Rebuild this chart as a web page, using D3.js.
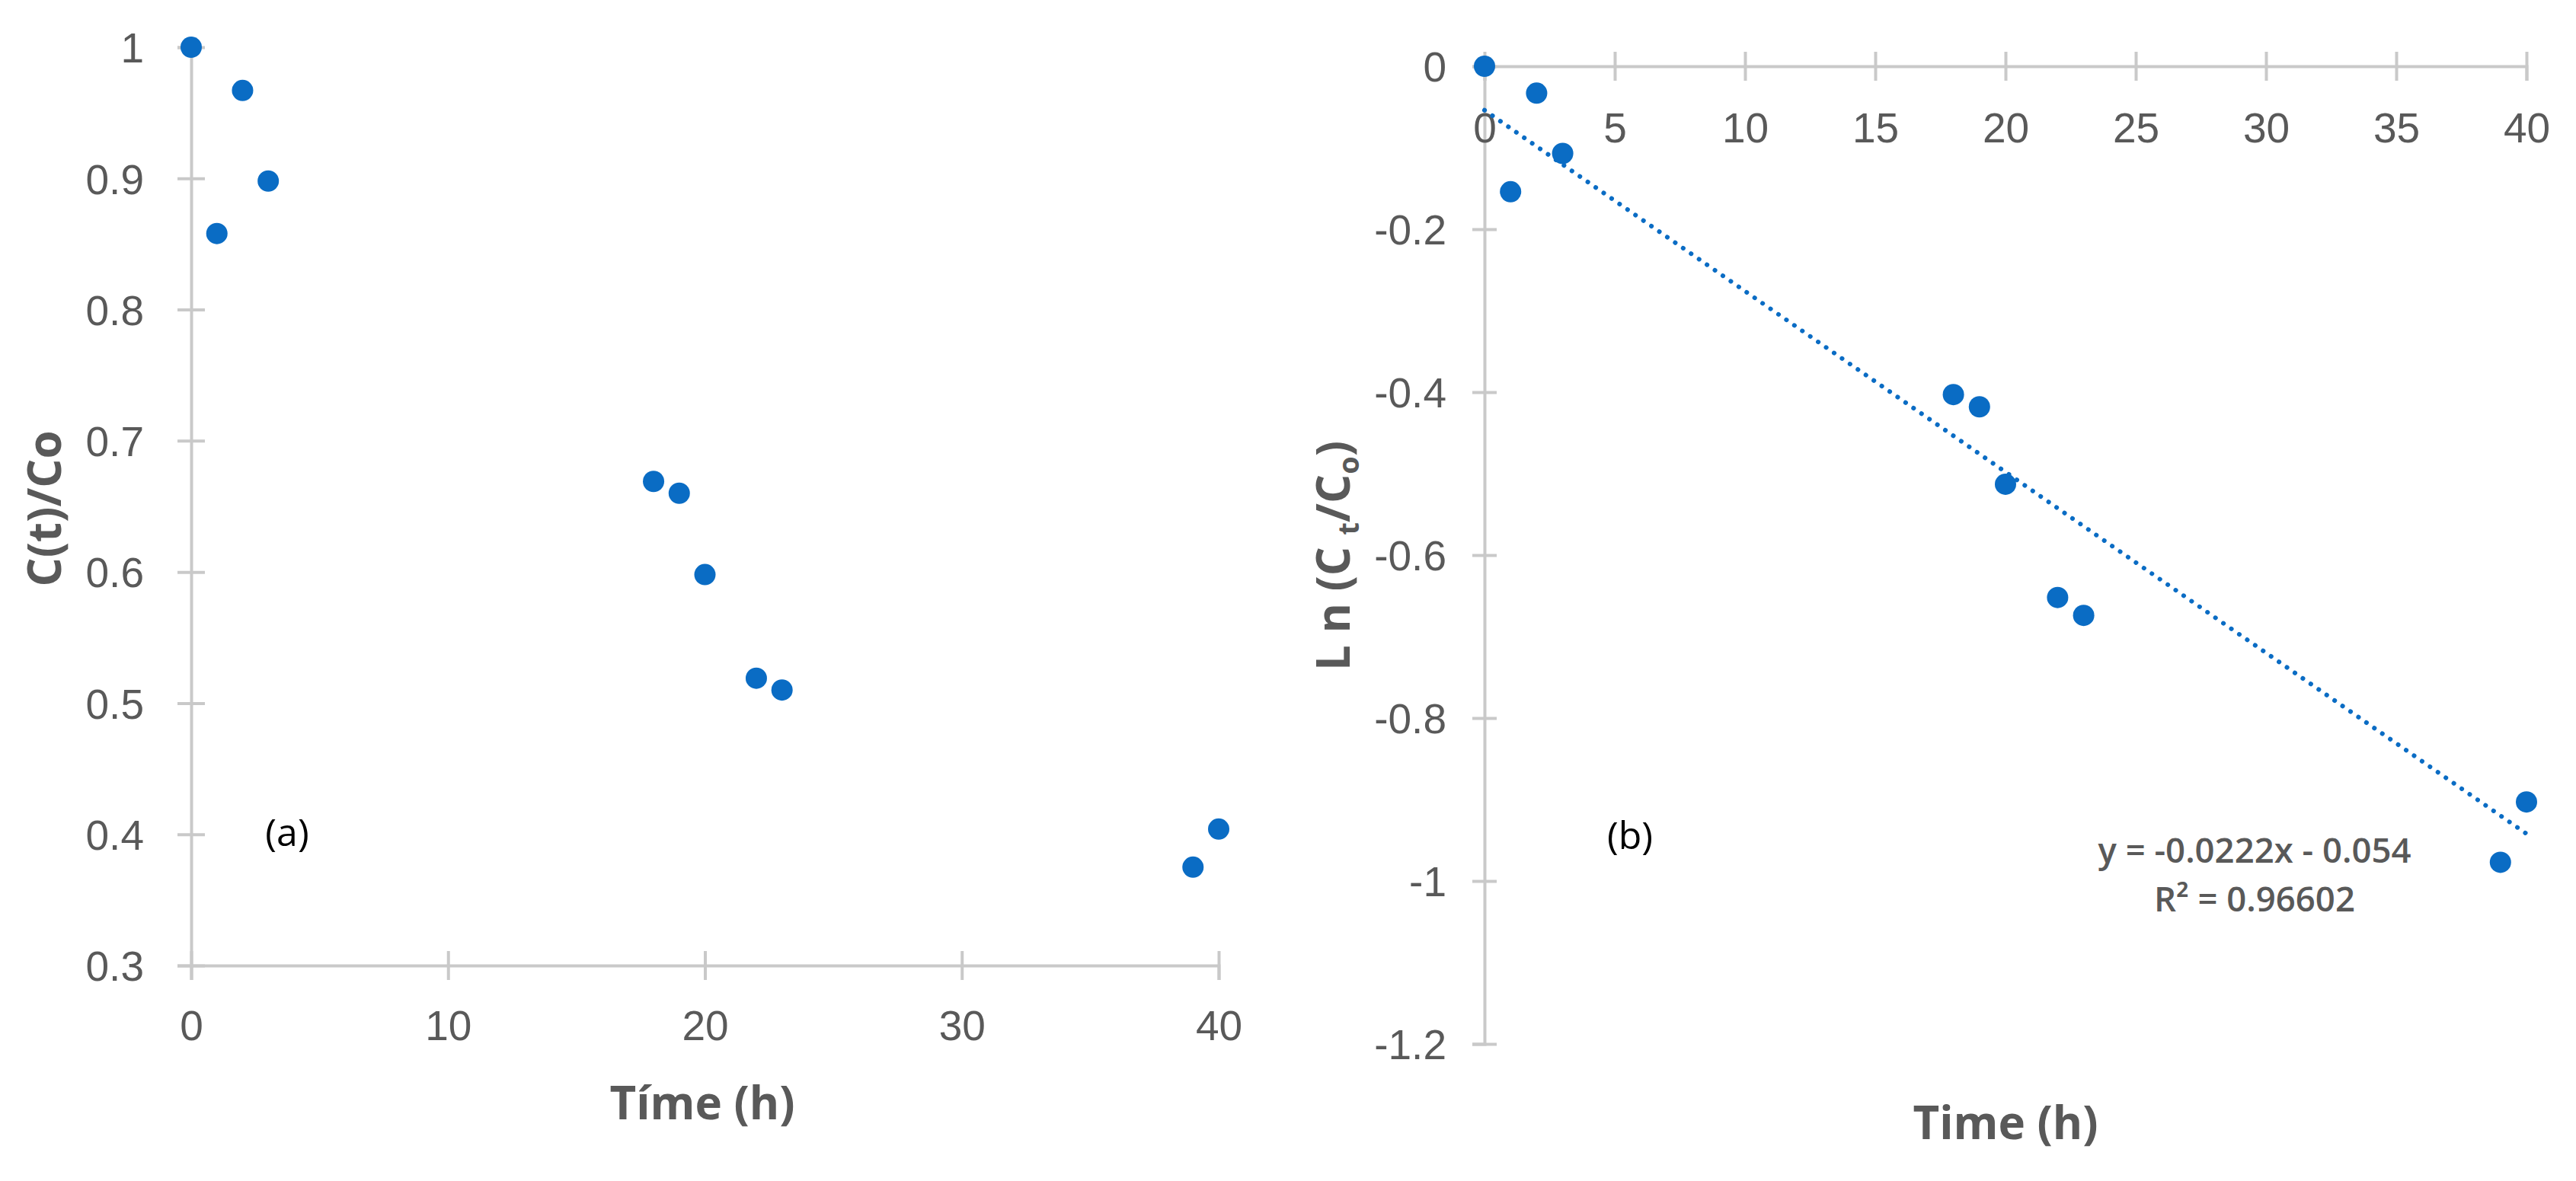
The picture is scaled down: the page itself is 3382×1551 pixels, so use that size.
<!DOCTYPE html>
<html>
<head>
<meta charset="utf-8">
<script src="https://cdn.jsdelivr.net/npm/d3@7"></script>
<style>
  body { margin: 0; background: #fff; }
  svg { display: block; font-family: "Open Sans", sans-serif; }
</style>
</head>
<body>
<div id="chart"></div>
<script>
// --------------------------------------
//  Data
// --------------------------------------
const time = [0, 1, 2, 3, 18, 19, 20, 22, 23, 39, 40];
const ratio = [1, 0.858, 0.967, 0.898, 0.669, 0.660, 0.598, 0.519, 0.510, 0.375, 0.404];
const lnRatio = [0, -0.154, -0.033, -0.107, -0.403, -0.418, -0.513, -0.652, -0.674, -0.977, -0.903];

const ticksA_x = [0, 10, 20, 30, 40];
const ticksA_y = [0.3, 0.4, 0.5, 0.6, 0.7, 0.8, 0.9, 1];
const ticksB_x = [0, 5, 10, 15, 20, 25, 30, 35, 40];
const ticksB_y = [0, -0.2, -0.4, -0.6, -0.8, -1, -1.2];

const trendSlope = -0.0222;
const trendIntercept = -0.054;
const trendText = ["y = -0.0222x - 0.054", "R\u00B2 = 0.96602"];

// --------------------------------------
//  Canvas
// --------------------------------------
const width = 3382, height = 1551;
const dotColor = "#0a6cc4";
const axisColor = "#c9c9c9";
const textColor = "#595959";

const svg = d3.select("#chart")
  .append("svg")
  .attr("width", width)
  .attr("height", height)
  .attr("viewBox", [0, 0, width, height]);

// plain hyphen for negatives, like the original
const fmt = d => String(+d.toFixed(1));

function styleAxis(g) {
  g.select(".domain").attr("stroke", axisColor).attr("stroke-width", 4);
  g.selectAll(".tick line").attr("stroke", axisColor).attr("stroke-width", 4);
  g.selectAll(".tick text")
    .attr("fill", textColor)
    .style("font-size", "55px");
}

// --------------------------------------
//  Panel (a)
// --------------------------------------
const xA = d3.scaleLinear().domain([0, 40]).range([251, 1600]);
const yA = d3.scaleLinear().domain([0.3, 1]).range([1268, 62]);

const axA_y = svg.append("g")
  .attr("transform", `translate(${xA(0)},0)`)
  .call(d3.axisLeft(yA).tickValues(ticksA_y).tickSize(18).tickPadding(44).tickFormat(fmt))
  .call(styleAxis);
axA_y.selectAll(".tick line").attr("x1", -18).attr("x2", 18);
axA_y.selectAll(".tick text").attr("dy", "0.36em");

const axA_x = svg.append("g")
  .attr("transform", `translate(0,${yA(0.3)})`)
  .call(d3.axisBottom(xA).tickValues(ticksA_x).tickSize(19).tickPadding(40))
  .call(styleAxis);
axA_x.selectAll(".tick line").attr("y1", -19).attr("y2", 19);
axA_x.selectAll(".tick text").attr("dy", "0.71em");

svg.append("g")
  .selectAll("circle")
  .data(time.map((t, i) => ({ t, v: ratio[i] })))
  .join("circle")
    .attr("cx", d => xA(d.t))
    .attr("cy", d => yA(d.v))
    .attr("r", 14)
    .attr("fill", dotColor);

svg.append("text")
  .attr("transform", `translate(80,668) rotate(-90)`)
  .attr("text-anchor", "middle")
  .attr("fill", textColor)
  .style("font-size", "60px")
  .style("font-weight", "bold")
  .text("C(t)/Co");

svg.append("text")
  .attr("x", 922).attr("y", 1470)
  .attr("text-anchor", "middle")
  .attr("fill", textColor)
  .style("font-size", "60px")
  .style("font-weight", "bold")
  .text("Tíme (h)");

svg.append("text")
  .attr("x", 377).attr("y", 1111)
  .attr("text-anchor", "middle")
  .attr("fill", "#000")
  .style("font-size", "50px")
  .text("(a)");

// --------------------------------------
//  Panel (b)
// --------------------------------------
const xB = d3.scaleLinear().domain([0, 40]).range([1949, 3317]);
const yB = d3.scaleLinear().domain([-1.2, 0]).range([1371, 87]);

const axB_y = svg.append("g")
  .attr("transform", `translate(${xB(0)},0)`)
  .call(d3.axisLeft(yB).tickValues(ticksB_y).tickSize(16).tickPadding(34).tickFormat(fmt))
  .call(styleAxis);
axB_y.selectAll(".tick line").attr("x1", -16).attr("x2", 16);
axB_y.selectAll(".tick text").attr("dy", "0.36em");

const axB_x = svg.append("g")
  .attr("transform", `translate(0,${yB(0)})`)
  .call(d3.axisBottom(xB).tickValues(ticksB_x).tickSize(19).tickPadding(42))
  .call(styleAxis);
axB_x.selectAll(".tick line").attr("y1", -19).attr("y2", 19);
axB_x.selectAll(".tick text").attr("dy", "0.71em");

const trend = d3.line()
  .x(d => xB(d))
  .y(d => yB(trendSlope * d + trendIntercept));

svg.append("path")
  .datum([0, 40])
  .attr("d", trend)
  .attr("fill", "none")
  .attr("stroke", dotColor)
  .attr("stroke-width", 6)
  .attr("stroke-linecap", "round")
  .attr("stroke-dasharray", "0.1 12.6");

svg.append("g")
  .selectAll("circle")
  .data(time.map((t, i) => ({ t, v: lnRatio[i] })))
  .join("circle")
    .attr("cx", d => xB(d.t))
    .attr("cy", d => yB(d.v))
    .attr("r", 14)
    .attr("fill", dotColor);

const yTitle = svg.append("text")
  .attr("transform", `translate(1772,730) rotate(-90)`)
  .attr("text-anchor", "middle")
  .attr("fill", textColor)
  .style("font-size", "60px")
  .style("font-weight", "bold");
yTitle.append("tspan").text("L n (C ");
yTitle.append("tspan").attr("dy", 12).style("font-size", "38px").text("t");
yTitle.append("tspan").attr("dy", -12).text("/C");
yTitle.append("tspan").attr("dy", 12).style("font-size", "38px").text("o");
yTitle.append("tspan").attr("dy", -12).text(")");

svg.append("text")
  .attr("x", 2633).attr("y", 1496)
  .attr("text-anchor", "middle")
  .attr("fill", textColor)
  .style("font-size", "60px")
  .style("font-weight", "bold")
  .text("Time (h)");

svg.append("text")
  .attr("x", 2140).attr("y", 1115)
  .attr("text-anchor", "middle")
  .attr("fill", "#000")
  .style("font-size", "50px")
  .text("(b)");

svg.append("g")
  .selectAll("text")
  .data(trendText)
  .join("text")
    .attr("x", 2960)
    .attr("y", (d, i) => 1133 + i * 64)
    .attr("text-anchor", "middle")
    .attr("fill", textColor)
    .style("font-size", "45.5px")
    .style("font-weight", 600)
    .text(d => d);
</script>
</body>
</html>
